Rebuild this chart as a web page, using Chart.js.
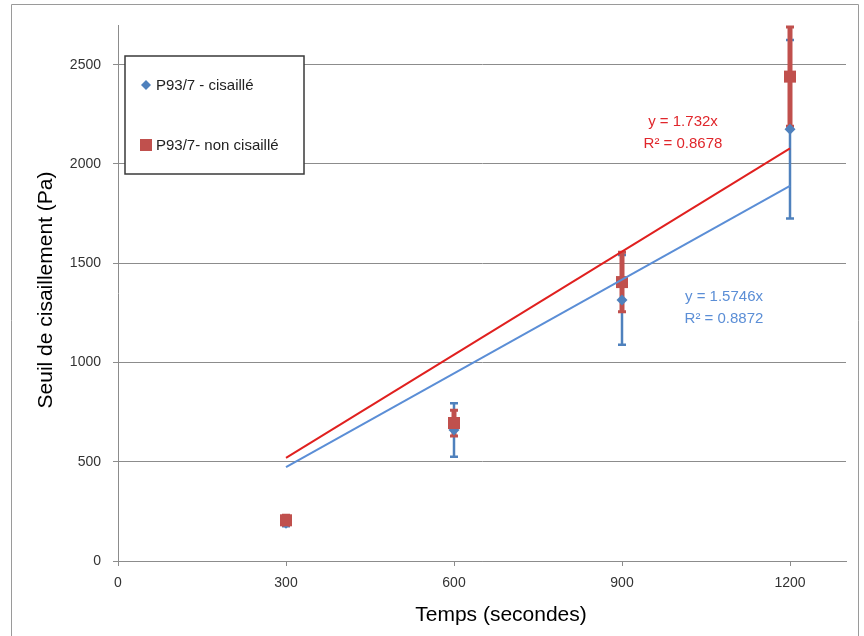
<!DOCTYPE html>
<html><head><meta charset="utf-8">
<script src="https://cdn.jsdelivr.net/npm/chart.js@4"></script>
<style>html,body{margin:0;padding:0;background:#fff}#wrap{width:864px;height:636px;position:relative}</style>
</head><body><div id="wrap"><canvas id="c" width="864" height="636"></canvas></div>
<script>
const times = [300, 600, 900, 1200];
const xTicks = [0, 300, 600, 900, 1200];
const yTicks = [0, 500, 1000, 1500, 2000, 2500];
const seriesNames = ["P93/7 - cisaillé", "P93/7- non cisaillé"];
const shearedVals = [190, 660, 1315, 2175];
const shearedErr = [15, 135, 226, 450];
const unshearedVals = [205, 695, 1405, 2440];
const unshearedErr = [25, 65, 150, 250];
const trendX = [300, 1200];
const shearedTrend = [472.4, 1889.5];
const unshearedTrend = [519.6, 2078.4];
const trendLabels = [["y = 1.5746x", "R² = 0.8872"], ["y = 1.732x", "R² = 0.8678"]];

const BLUE = '#4F81BD', RED = '#C0504D';
const FONT = "'Liberation Sans', Arial, sans-serif";

const pts = (xs, ys) => xs.map((x, i) => ({x, y: ys[i]}));

const errorBars = {
  id: 'errorBars',
  beforeDatasetsDraw(chart) {
    const ctx = chart.ctx, xs = chart.scales.x, ys = chart.scales.y;
    const draw = (vals, errs, color, w, capW, capT) => {
      ctx.save();
      ctx.strokeStyle = color;
      times.forEach((t, i) => {
        const px = xs.getPixelForValue(t);
        const top = ys.getPixelForValue(vals[i] + errs[i]);
        const bot = ys.getPixelForValue(vals[i] - errs[i]);
        ctx.lineWidth = w;
        ctx.beginPath(); ctx.moveTo(px, top); ctx.lineTo(px, bot); ctx.stroke();
        ctx.lineWidth = capT;
        ctx.beginPath();
        ctx.moveTo(px - capW / 2, top); ctx.lineTo(px + capW / 2, top);
        ctx.moveTo(px - capW / 2, bot); ctx.lineTo(px + capW / 2, bot);
        ctx.stroke();
      });
      ctx.restore();
    };
    draw(shearedVals, shearedErr, BLUE, 2.5, 8, 2.5);
    draw(unshearedVals, unshearedErr, RED, 5, 8, 3);
  }
};

const decor = {
  id: 'decor',
  afterDraw(chart) {
    const ctx = chart.ctx;
    ctx.save();
    // outer frame
    ctx.strokeStyle = '#9a9a9a'; ctx.lineWidth = 1;
    ctx.beginPath();
    ctx.moveTo(11.5, 640); ctx.lineTo(11.5, 4.5); ctx.lineTo(858.5, 4.5); ctx.lineTo(858.5, 640);
    ctx.stroke();
    // legend box
    ctx.fillStyle = '#fff';
    ctx.fillRect(125, 56, 179, 118);
    ctx.strokeStyle = '#3a3a3a'; ctx.lineWidth = 1.5;
    ctx.strokeRect(125, 56, 179, 118);
    // legend markers
    ctx.fillStyle = BLUE;
    ctx.beginPath(); ctx.moveTo(146, 80); ctx.lineTo(151, 85); ctx.lineTo(146, 90); ctx.lineTo(141, 85); ctx.closePath(); ctx.fill();
    ctx.fillStyle = RED;
    ctx.fillRect(140, 139, 12, 12);
    ctx.fillStyle = '#222';
    ctx.font = '15px ' + FONT; ctx.textBaseline = 'middle'; ctx.textAlign = 'left';
    ctx.fillText(seriesNames[0], 156, 86);
    ctx.fillText(seriesNames[1], 156, 146);
    // trend labels
    ctx.textAlign = 'center';
    ctx.fillStyle = '#E0262B';
    ctx.fillText(trendLabels[1][0], 683, 122);
    ctx.fillText(trendLabels[1][1], 683, 144);
    ctx.fillStyle = '#5B8ED6';
    ctx.fillText(trendLabels[0][0], 724, 297);
    ctx.fillText(trendLabels[0][1], 724, 319);
    // axis titles
    ctx.fillStyle = '#000';
    ctx.font = '21px ' + FONT;
    ctx.fillText('Temps (secondes)', 501, 615);
    ctx.translate(46, 290); ctx.rotate(-Math.PI / 2);
    ctx.fillText('Seuil de cisaillement (Pa)', 0, 0);
    ctx.restore();
  }
};

new Chart(document.getElementById('c'), {
  type: 'scatter',
  data: {
    datasets: [
      { label: 'trend2', type: 'line', data: pts(trendX, unshearedTrend), borderColor: '#E0201F', borderWidth: 2, pointRadius: 0, order: -2 },
      { label: 'trend1', type: 'line', data: pts(trendX, shearedTrend), borderColor: '#5B8ED6', borderWidth: 2, pointRadius: 0, order: -1 },
      { label: seriesNames[1], data: pts(times, unshearedVals), pointStyle: 'rect', pointRadius: 8.5, backgroundColor: RED, borderColor: RED, borderWidth: 0, order: 0 },
      { label: seriesNames[0], data: pts(times, shearedVals), pointStyle: 'rectRot', pointRadius: 5.5, backgroundColor: BLUE, borderColor: BLUE, borderWidth: 0, order: 1 }
    ]
  },
  options: {
    responsive: false, animation: false,
    layout: { padding: { left: 0, right: 18, top: 25, bottom: 0 } },
    plugins: { legend: { display: false }, tooltip: { enabled: false } },
    scales: {
      x: {
        type: 'linear', min: 0, max: 1300,
        afterBuildTicks: s => { s.ticks = xTicks.map(v => ({value: v})); },
        afterFit: s => { s.height = 75; },
        grid: { drawOnChartArea: false, drawTicks: true, tickLength: 5, color: '#8c8c8c' },
        border: { display: true, color: '#8c8c8c', width: 1 },
        ticks: { font: { family: FONT, size: 14 }, color: '#333', padding: 9, maxRotation: 0, callback: v => String(v) }
      },
      y: {
        type: 'linear', min: 0, max: 2700,
        afterBuildTicks: s => { s.ticks = yTicks.map(v => ({value: v})); },
        afterFit: s => { s.width = 118; },
        grid: { drawOnChartArea: true, drawTicks: true, tickLength: 5, color: '#8c8c8c' },
        border: { display: true, color: '#8c8c8c', width: 1 },
        ticks: { font: { family: FONT, size: 14 }, color: '#333', padding: 12, callback: v => String(v) }
      }
    }
  },
  plugins: [errorBars, decor]
});
</script></body></html>
